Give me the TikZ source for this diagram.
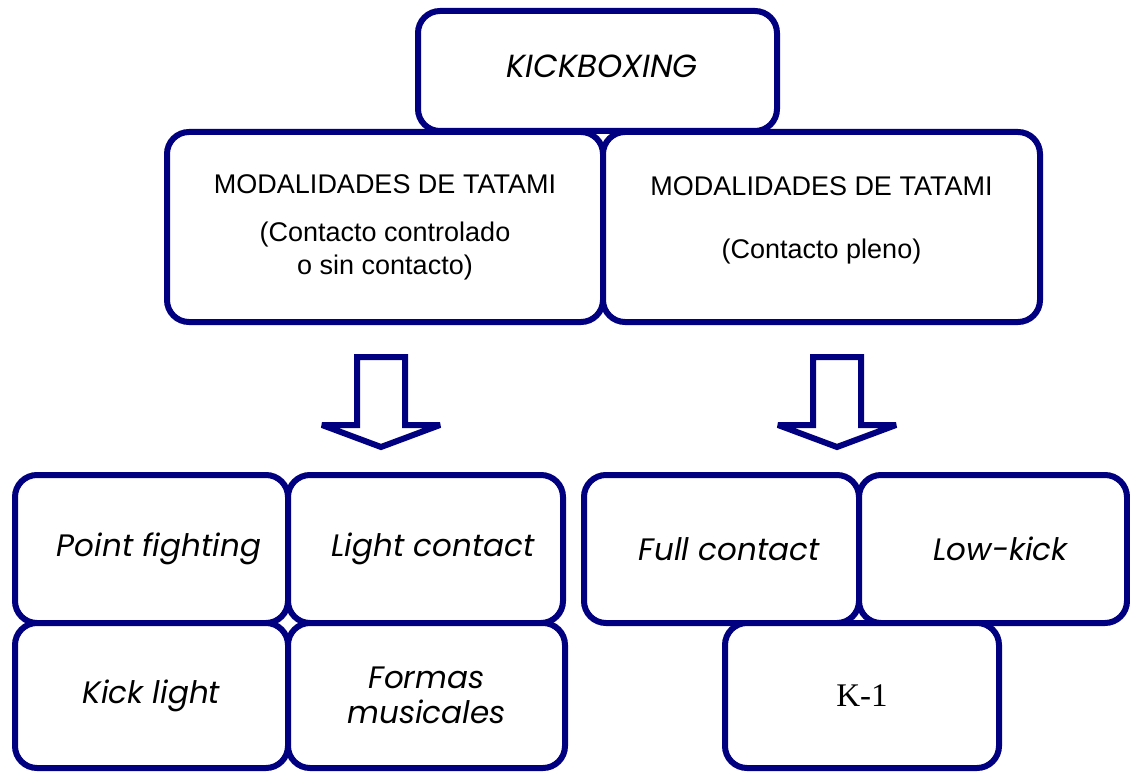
\documentclass[tikz,border=0pt]{standalone}
\usepackage{xcolor}
\usepackage{fontspec}
\setmainfont{Liberation Sans}
\newfontfamily\gothic{Poppins}
\newfontfamily\timesfont{Liberation Serif}
\usepackage{tikz}
\usetikzlibrary{shapes,arrows}
\definecolor{navyline}{RGB}{0,0,128}
\tikzstyle{box} = [rectangle, draw=navyline, line width=6pt, fill=white,
    rounded corners=22pt, inner sep=0pt, text centered]
\tikzstyle{modality} = [box, font=\gothic\itshape\fontsize{31}{35}\selectfont]
\tikzstyle{nudged} = [modality, execute at begin node={\hspace*{15pt}}]
\tikzstyle{tatami} = [box, align=center, font=\fontsize{27}{33}\selectfont]
\tikzstyle{blockarrow} = [draw=navyline, line width=6pt, fill=white,
    line join=miter, miter limit=2]

\begin{document}
\begin{tikzpicture}[x=1pt, y=-1pt]
    \useasboundingbox (0,0) rectangle (1130,773);
    % Place nodes
    \node [tatami, minimum width=436pt, minimum height=190pt] (semi) at (385,227)
        {MODALIDADES DE TATAMI\\[15pt](Contacto controlado\\o sin contacto)};
    \node [tatami, minimum width=437pt, minimum height=190pt, text depth=18pt] (pleno) at (821.5,227)
        {MODALIDADES DE TATAMI\\[30pt](Contacto pleno)};
    \node [modality, minimum width=359pt, minimum height=120pt, text depth=9pt,
        execute at begin node={\hspace*{9pt}}] (kick) at (597.5,71)
        {\fontsize{32}{35}\selectfont KICKBOXING};
    \node [nudged, minimum width=273pt, minimum height=148pt] (point) at (151.5,549) {Point fighting};
    \node [nudged, minimum width=275pt, minimum height=148pt] (light) at (425.5,549) {Light contact};
    \node [modality, minimum width=273pt, minimum height=145pt] (kicklight) at (151.5,695.5) {Kick light};
    \node [modality, minimum width=277pt, minimum height=145pt, align=center] (formas) at (426.5,695.5) {Formas\\musicales};
    \node [nudged, minimum width=275pt, minimum height=148pt] (fullc) at (721.5,549) {Full contact};
    \node [nudged, minimum width=268pt, minimum height=148pt] (lowkick) at (993,549) {Low-kick};
    \node [box, minimum width=274pt, minimum height=145pt, font=\timesfont\fontsize{33}{36}\selectfont] (kone) at (862,695.5) {K-1};
    % Draw arrows
    \coordinate (arrowL) at (381,357);
    \coordinate (arrowR) at (837,357);
    \draw [blockarrow] ([xshift=-24pt]arrowL) -- ++(48,0) -- ++(0,68) -- ++(35,0)
        -- ++(-59,22) -- ++(-59,-22) -- ++(35,0) -- cycle;
    \draw [blockarrow] ([xshift=-24pt]arrowR) -- ++(48,0) -- ++(0,68) -- ++(35,0)
        -- ++(-59,22) -- ++(-59,-22) -- ++(35,0) -- cycle;
\end{tikzpicture}
\end{document}
